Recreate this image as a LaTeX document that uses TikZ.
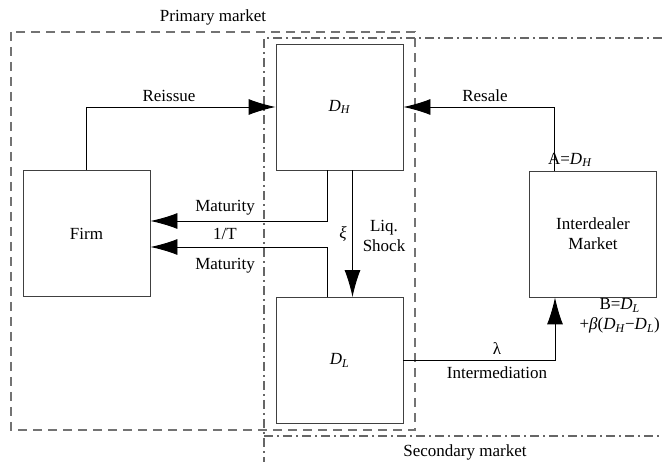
\documentclass[tikz,border=0pt]{standalone}
\usepackage{fontspec}
\setmainfont{Liberation Serif}
\usetikzlibrary{arrows.meta}
\newcommand{\Dsub}[1]{\textit{D}\textsubscript{\textit{#1}}}
\tikzset{
  box/.style={draw=black!75, line width=0.9pt, minimum width=127pt, minimum height=126pt, inner sep=0pt, align=center},
  arr/.style={draw=black, line width=0.9pt, -{Latex[length=27pt,width=16pt]}},
  lbl/.style={inner sep=0pt, align=center},
  prim/.style={draw=black!55, line width=1.1pt, dash pattern=on 9pt off 6pt},
  sec/.style={draw=black!60, line width=1.1pt, dash pattern=on 9pt off 4pt on 2pt off 4pt},
}
\begin{document}
\begin{tikzpicture}[x=1pt, y=-1pt, font=\fontsize{17}{20}\selectfont]
\useasboundingbox (0,0) rectangle (662,462);
% regions
\draw[prim] (11,32) rectangle (415,430);
\draw[sec] (662,38) -- (264,38) -- (264,462);
\draw[sec] (264,436) -- (662,436);
\node[lbl] (pm) at (213,17) {Primary market};
\node[lbl] (sm) at (465,452) {Secondary market};
% boxes
\node[box, fill=white] (dh) at (339.5,107) {\Dsub{H}};
\node[box, fill=white] (dl) at (339.5,360.5) {\Dsub{L}};
\node[box] (firm) at (86.5,233.5) {Firm};
\node[box] (idm) at (593,234) {Interdealer\\Market};
% connectors
\draw[arr] (firm.north) |- (dh.west);
\draw[arr] ([xshift=-39pt]idm.north) |- (dh.east);
\draw[arr] ([xshift=-12pt]dh.south) |- ([yshift=12.5pt]firm.east);
\draw[arr] ([xshift=-12pt]dl.north) |- ([yshift=-13.5pt]firm.east);
\draw[arr] ([xshift=13pt]dh.south) -- ([xshift=13pt]dl.north);
\draw[arr] (dl.east) -| ([xshift=-38pt]idm.south);
% labels
\node[lbl] (lre) at (169,96) {Reissue};
\node[lbl] (lrs) at (485,96) {Resale};
\node[lbl] (la) at (570,160) {A=\Dsub{H}};
\node[lbl] (lm1) at (225,208) {Maturity};
\node[lbl] (lt) at (225,234) {1/T};
\node[lbl] (lm2) at (225,266) {Maturity};
\node[lbl] (lxi) at (343,234) {\textit{ξ}};
\node[lbl] (lls) at (384,236) {Liq.\\Shock};
\node[lbl] (llam) at (497,349) {λ};
\node[lbl] (lint) at (497,373) {Intermediation};
\node[lbl, anchor=east] (lb) at (660,316) {B=\Dsub{L}\\+\textit{β}(\Dsub{H}−\Dsub{L})};
\end{tikzpicture}
\end{document}
